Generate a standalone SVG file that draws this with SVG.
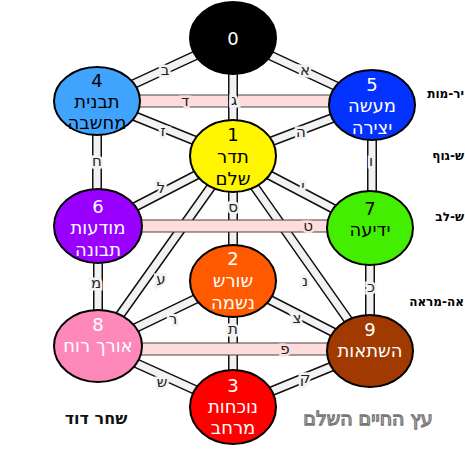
<svg xmlns="http://www.w3.org/2000/svg" width="465" height="465" viewBox="0 0 465 465">
<style>
.edge-o{stroke:#111;stroke-width:10;fill:none}
.edge-i{stroke:#f2f2f2;stroke-width:7;fill:none}
.band-o{stroke:#444;stroke-width:13;fill:none}
.band-i{stroke:#ffdcdc;stroke-width:11;fill:none}
.nd{stroke:#000;stroke-width:2}
.lbl{font-family:"DejaVu Sans",sans-serif;font-size:15px;fill:#222;text-anchor:middle;dominant-baseline:central;stroke:#f2f2f2;stroke-width:5;paint-order:stroke}
.lblp{stroke:#ffdcdc}
.t{font-family:"DejaVu Sans",sans-serif;font-size:18px;text-anchor:middle;dominant-baseline:central}
.w{fill:#fff}
.b{fill:#000}
.side{font-family:"DejaVu Sans",sans-serif;font-size:12px;font-weight:bold;fill:#000;text-anchor:end;dominant-baseline:central}
</style>
<rect width="465" height="465" fill="#fff"/>
<g id="connectors">
  <path class="band-o" d="M97 101H372"/><path class="band-i" d="M97 101H372"/>
  <path class="edge-o" d="M233 38L97 101M233 38L372 103M233 38V156M97 101L233 156M372 103L233 156M97 101V226M372 103V228M233 156L98 226M233 156L370 228M233 156L98 346M233 156L370 351M98 226V346M370 228V351M233 156V281M233 281L98 346M233 281L370 351M233 281V407M98 346L233 407M370 351L233 407"/>
  <path class="edge-i" d="M233 38L97 101M233 38L372 103M233 38V156M97 101L233 156M372 103L233 156M97 101V226M372 103V228M233 156L98 226M233 156L370 228M233 156L98 346M233 156L370 351M98 226V346M370 228V351M233 156V281M233 281L98 346M233 281L370 351M233 281V407M98 346L233 407M370 351L233 407"/>
  <path class="band-o" d="M98 226H370"/><path class="band-i" d="M98 226H370"/>
  <path class="band-o" d="M98 349H370"/><path class="band-i" d="M98 349H370"/>
  <text class="lbl" x="165" y="70">ב</text>
  <text class="lbl" x="305" y="70">א</text>
  <text class="lbl" x="234" y="100">ג</text>
  <text class="lbl lblp" x="185" y="101">ד</text>
  <text class="lbl" x="163" y="131">ז</text>
  <text class="lbl" x="301" y="132">ה</text>
  <text class="lbl" x="97" y="161">ח</text>
  <text class="lbl" x="371" y="161">ו</text>
  <text class="lbl" x="161" y="188">ל</text>
  <text class="lbl" x="303" y="186">י</text>
  <text class="lbl" x="233" y="207">ס</text>
  <text class="lbl lblp" x="308" y="226">ט</text>
  <text class="lbl" x="161" y="279">ע</text>
  <text class="lbl" x="305" y="281">נ</text>
  <text class="lbl" x="96" y="283">מ</text>
  <text class="lbl" x="371" y="287">כ</text>
  <text class="lbl" x="173" y="319">ר</text>
  <text class="lbl" x="297" y="318">צ</text>
  <text class="lbl" x="233" y="329">ת</text>
  <text class="lbl lblp" x="285" y="349">פ</text>
  <text class="lbl" x="162" y="382">ש</text>
  <text class="lbl" x="305" y="378">ק</text>
</g>
<g id="node0"><ellipse class="nd" cx="233" cy="38" rx="43" ry="36" fill="#000"/><text class="t w" x="233" y="38" font-size="16">0</text></g>
<g id="node4"><ellipse class="nd" cx="97" cy="101" rx="43" ry="34" fill="#40a4ff"/><text class="t b" x="97" y="80">4</text><text class="t b" x="97" y="101">תבנית</text><text class="t b" x="97" y="122">מחשבה</text></g>
<g id="node5"><ellipse class="nd" cx="372" cy="105" rx="43" ry="35" fill="#0433ff"/><text class="t w" x="372" y="84">5</text><text class="t w" x="372" y="105">מעשה</text><text class="t w" x="372" y="127">יצירה</text></g>
<g id="node1"><ellipse class="nd" cx="233" cy="156" rx="43" ry="36" fill="#fff500"/><text class="t b" x="233" y="134">1</text><text class="t b" x="233" y="156">תדר</text><text class="t b" x="233" y="178">שלם</text></g>
<g id="node6"><ellipse class="nd" cx="98" cy="226" rx="44" ry="37" fill="#9a00ff"/><text class="t w" x="98" y="206">6</text><text class="t w" x="98" y="227">מודעות</text><text class="t w" x="98" y="249">תבונה</text></g>
<g id="node7"><ellipse class="nd" cx="370" cy="228" rx="43" ry="37" fill="#44ee00"/><text class="t b" x="370" y="208">7</text><text class="t b" x="370" y="229">ידיעה</text></g>
<g id="node2"><ellipse class="nd" cx="233" cy="281" rx="43" ry="36" fill="#ff5a00"/><text class="t w" x="233" y="258">2</text><text class="t w" x="233" y="280">שורש</text><text class="t w" x="233" y="302">נשמה</text></g>
<g id="node8"><ellipse class="nd" cx="98" cy="346" rx="44" ry="36" fill="#ff88bb"/><text class="t w" x="98" y="324">8</text><text class="t w" x="98" y="345">אורך רוח</text></g>
<g id="node9"><ellipse class="nd" cx="370" cy="351" rx="43" ry="36" fill="#a03a00"/><text class="t w" x="370" y="329">9</text><text class="t w" x="370" y="350">השתאות</text></g>
<g id="node3"><ellipse class="nd" cx="233" cy="407" rx="43" ry="37" fill="#ff0000"/><text class="t w" x="233" y="385">3</text><text class="t w" x="233" y="406">נוכחות</text><text class="t w" x="233" y="427">מרחב</text></g>
<text x="96" y="418" font-family="DejaVu Sans, sans-serif" font-size="16" font-weight="bold" text-anchor="middle" dominant-baseline="central" fill="#111">שחר דוד</text>
<text x="368" y="418" font-family="DejaVu Sans, sans-serif" font-size="19" text-anchor="middle" dominant-baseline="central" fill="#fff" stroke="#777" stroke-width="1.3">עץ החיים השלם</text>
<text class="side" x="464" y="94">יר-מות</text>
<text class="side" x="464" y="156">ש-גוף</text>
<text class="side" x="464" y="217">ש-לב</text>
<text class="side" x="464" y="302">אה-מראה</text>
</svg>
